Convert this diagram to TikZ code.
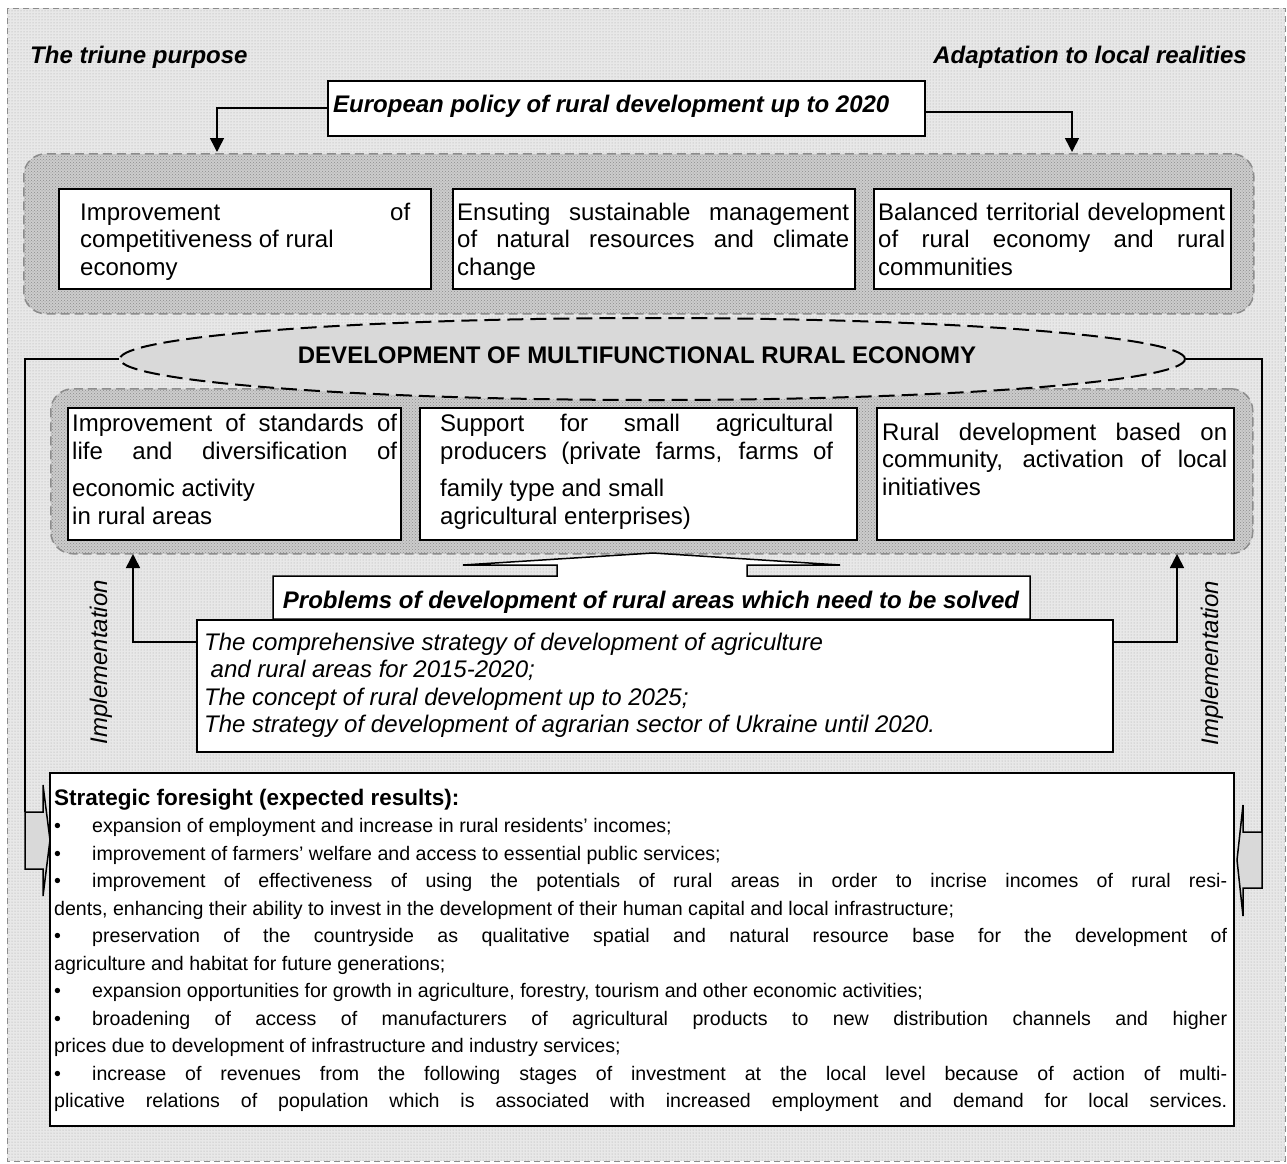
\documentclass[tikz,border=0pt]{standalone}
\usepackage{fontspec}
\setmainfont{Liberation Sans}
\usetikzlibrary{arrows.meta,patterns,calc,shapes.geometric}
\newcommand\NS{\spaceskip=0pt\xspaceskip=0pt\relax}
\newcommand\JL[1]{\makebox[\hsize][s]{\NS #1}}
\newcommand\BL{\makebox[38pt][l]{\textbullet}}
\newcommand\bodyfont{\fontsize{24}{27.6}\selectfont}
\newcommand\smallbody{\fontsize{19.6}{27.5}\selectfont}
\begin{document}
\begin{tikzpicture}[x=1pt,y=-1pt,
  box/.style={draw=black, line width=1.5pt, fill=white},
  grp/.style={draw=black!45, dash pattern=on 9pt off 5pt, line width=1.5pt, rounded corners=22pt, fill=black!20,
     postaction={pattern=crosshatch dots, pattern color=black!45}, anchor=north west},
  txt/.style={anchor=base west, inner sep=0pt, font=\bodyfont},
  ttl/.style={inner sep=0pt, font=\bodyfont\bfseries\itshape},
  conn/.style={draw=black, line width=1.6pt},
  arr/.style={conn, -{Triangle[length=14pt,width=14pt]}},
  barrow/.style={draw=black, line width=1.5pt, fill=black!15},
  impl/.style={inner sep=0pt, rotate=90, font=\bodyfont\itshape},
]
\useasboundingbox (0,0) rectangle (1287,1163);
\fill[white] (0,0) rectangle (1287,1163);
\fill[black!9] (7,8) rectangle (1285,1161);
\fill[pattern=dots, pattern color=black!35] (7,8) rectangle (1285,1161);
\draw[black!45, line width=1pt, dash pattern=on 6pt off 4pt] (7,8) rectangle (1285,1161);

% titles
\node[ttl, anchor=base west] (tl) at (30,63) {The triune purpose};
\node[ttl, anchor=base east] (tr) at (1247,63) {Adaptation to local realities};

% top group
\node[grp, minimum width=1230, minimum height=160] (g1) at (23,153) {};
\node[box, anchor=north west, minimum width=597, minimum height=55] (eu) at (327,80) {};
\node[ttl, anchor=base west] (eut) at (333,112) {European policy of rural development up to 2020};
\coordinate (t1) at (217,152);
\coordinate (t2) at (1072,152);
\draw[arr] (eu.west) -| (t1);
\draw[arr] ($(eu.east)+(0,4)$) -| (t2);

\node[box, anchor=north west, minimum width=372, minimum height=100] (b1) at (58,188) {};
\node[box, anchor=north west, minimum width=402, minimum height=100] (b2) at (452,188) {};
\node[box, anchor=north west, minimum width=357, minimum height=100] (b3) at (873,188) {};
\node[txt, text width=330] (b1t) at (80,220) {\NS\JL{Improvement of}\\competitiveness of rural\\economy};
\node[txt, text width=392] (b2t) at (457,220) {\NS\JL{Ensuting sustainable management}\\\JL{of natural resources and climate}\\change};
\node[txt, text width=347] (b3t) at (878,220) {\NS\JL{Balanced territorial development}\\\JL{of rural economy and rural}\\communities};

% middle group
\node[grp, minimum width=1202, minimum height=165] (g2) at (50,388) {};
\node[ellipse, draw=black, line width=2pt, dash pattern=on 16pt off 7pt, fill=black!15,
      minimum width=1065, minimum height=82, inner sep=0pt] (ell) at (652.5,359) {};
\node[inner sep=0pt, anchor=base, font=\bodyfont\bfseries] (ellt) at (637,363) {DEVELOPMENT OF MULTIFUNCTIONAL RURAL ECONOMY};

\node[box, anchor=north west, minimum width=333, minimum height=132] (b4) at (67,407) {};
\node[box, anchor=north west, minimum width=437, minimum height=132] (b5) at (419,407) {};
\node[box, anchor=north west, minimum width=357, minimum height=132] (b6) at (876,407) {};
\node[txt, text width=325, font=\fontsize{24}{28.5}\selectfont] (b4t) at (72,431) {\NS\JL{Improvement of standards of}\\\JL{life and diversification of}\\[8pt]economic activity\\in rural areas};
\node[txt, text width=393, font=\fontsize{24}{28.5}\selectfont] (b5t) at (440,431) {\NS\JL{Support for small agricultural}\\\JL{producers (private farms, farms of}\\[8pt]family type and small\\agricultural enterprises)};
\node[txt, text width=345] (b6t) at (882,440) {\NS\JL{Rural development based on}\\\JL{community, activation of local}\\initiatives};

% side connectors
\coordinate (la) at (25,812);
\coordinate (ra) at (1262,832);
\draw[conn] (ell.west) -| (la);
\draw[conn] (ell.east) -| (ra);
\draw[barrow] (la) -- (43,812) -- (43,785) -- (50,840) -- (43,896) -- (43,869) -- (25,869) -- cycle;
\draw[barrow] (ra) -- (1243,832) -- (1243,805) -- (1237,860) -- (1243,916) -- (1243,888) -- (1262,888) -- cycle;

% problems callout
\draw[box] (273,619) -- (273,576) -- (557,576) -- (557,565) -- (463,565) -- (653,553) -- (840,565)
   -- (747,565) -- (747,576) -- (1030,576) -- (1030,619) -- cycle;
\node[inner sep=0pt, anchor=base, font=\bodyfont\bfseries\itshape] (prob) at (651,608) {Problems of development of rural areas which need to be solved};

% strategies
\node[box, anchor=north west, minimum width=916, minimum height=132] (strat) at (196,619) {};
\node[txt, text width=900, font=\bodyfont\itshape] (stratt) at (204,650) {\NS The comprehensive strategy of development of agriculture\\\hspace*{6.5pt}and rural areas for 2015-2020;\\The concept of rural development up to 2025;\\The strategy of development of agrarian sector of Ukraine until 2020.};
\coordinate (i1) at (133,554);
\coordinate (i2) at (1177,554);
\draw[arr] ($(strat.north west)+(0,23)$) -| (i1);
\draw[arr] ($(strat.north east)+(0,23)$) -| (i2);
\node[impl] (im1) at (101,662) {Implementation};
\node[impl] (im2) at (1212,663) {Implementation};

% foresight
\node[box, anchor=north west, minimum width=1184, minimum height=353] (fs) at (49,772) {};
\node[txt, text width=1173, font=\smallbody] (fst) at (54,805) {\NS{\fontsize{22.5}{27.5}\selectfont\bfseries Strategic foresight (expected results):}\\
\BL expansion of employment and increase in rural residents’ incomes;\\
\BL improvement of farmers’ welfare and access to essential public services;\\
\JL{\BL improvement of effectiveness of using the potentials of rural areas in order to incrise incomes of rural resi-}\\
dents, enhancing their ability to invest in the development of their human capital and local infrastructure;\\
\JL{\BL preservation of the countryside as qualitative spatial and natural resource base for the development of}\\
agriculture and habitat for future generations;\\
\BL expansion opportunities for growth in agriculture, forestry, tourism and other economic activities;\\
\JL{\BL broadening of access of manufacturers of agricultural products to new distribution channels and higher}\\
prices due to development of infrastructure and industry services;\\
\JL{\BL increase of revenues from the following stages of investment at the local level because of action of multi-}\\
\JL{plicative relations of population which is associated with increased employment and demand for local services.}};
\end{tikzpicture}
\end{document}
